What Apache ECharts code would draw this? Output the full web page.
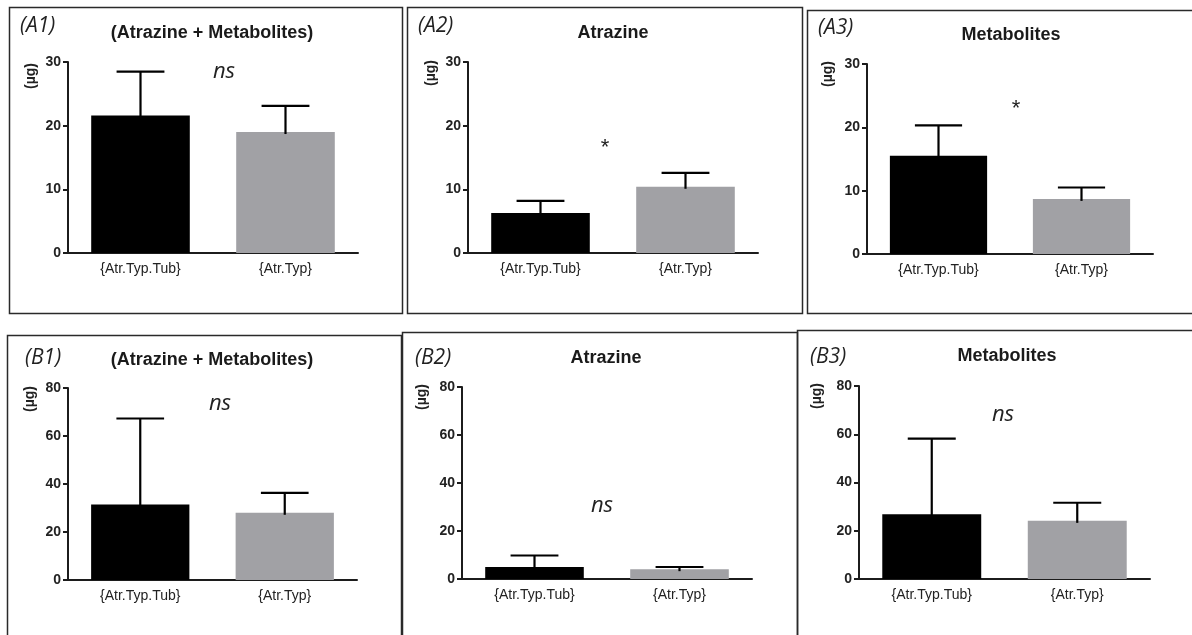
<!DOCTYPE html>
<html><head><meta charset="utf-8">
<script src="https://cdn.jsdelivr.net/npm/echarts/dist/echarts.min.js"></script>
<style>html,body{margin:0;padding:0;background:#fff}#c{width:1192px;height:635px}</style>
</head><body><div id="c"></div>
<script>
// ---------- data ----------
const categories = ['{Atr.Typ.Tub}', '{Atr.Typ}'];
const panelLabels = ['(A1)', '(A2)', '(A3)', '(B1)', '(B2)', '(B3)'];
const panelTitles = ['(Atrazine + Metabolites)', 'Atrazine', 'Metabolites',
                     '(Atrazine + Metabolites)', 'Atrazine', 'Metabolites'];
const significance = ['ns', '*', '*', 'ns', 'ns', 'ns'];
const yUnit = '(µg)';
const yTicksA = [0, 10, 20, 30];
const yTicksB = [0, 20, 40, 60, 80];

const meanA1 = [21.6, 19.0]; const errA1 = [6.9, 4.1];
const meanA2 = [6.3, 10.4];  const errA2 = [1.9, 2.2];
const meanA3 = [15.5, 8.7];  const errA3 = [4.8, 1.8];
const meanB1 = [31.5, 28.0]; const errB1 = [35.8, 8.3];
const meanB2 = [5.0, 4.1];   const errB2 = [4.8, 0.9];
const meanB3 = [26.8, 24.1]; const errB3 = [31.4, 7.5];

// ---------- layout / style ----------
const means = [meanA1, meanA2, meanA3, meanB1, meanB2, meanB3];
const errs  = [errA1, errA2, errA3, errB1, errB2, errB3];
const ticks = [yTicksA, yTicksA, yTicksA, yTicksB, yTicksB, yTicksB];
const grids = [
  {left: 68,  top: 62,  width: 290, height: 191},
  {left: 468, top: 62,  width: 290, height: 191},
  {left: 867, top: 64,  width: 286, height: 190},
  {left: 68,  top: 388, width: 289, height: 192},
  {left: 462, top: 387, width: 290, height: 192},
  {left: 859, top: 386, width: 291, height: 193}
];
const boxes = [
  [9.5, 7.5, 393, 306], [407.5, 7.5, 395, 306], [807.5, 10.5, 420, 303],
  [7.5, 335.5, 394, 330], [402.5, 332.5, 395, 330], [797.5, 330.5, 420, 330]
];
const labelPos = [[20, 26], [418, 26], [818, 28], [25, 358], [415, 358], [810, 357]];
const titlePos = [[212, 33], [613, 33], [1011, 35], [212, 360], [606, 358], [1007, 356]];
const unitPos  = [[31, 76], [431, 73], [828, 74], [30, 399], [422, 397], [817, 396]];
const sigPos   = [[224, 72], [605, 148], [1016, 109], [220, 404], [602, 506], [1003, 415]];
const barColors = ['#000000', '#a1a1a5'];
const axisColor = '#1c1c1c';

function renderErr(params, api) {
  const x = api.value(0), hi = api.value(1), lo = api.value(2);
  const pHi = api.coord([x, hi]);
  const pLo = api.coord([x, lo]);
  const half = api.size([1, 0])[0] * 0.165;
  return {
    type: 'group',
    children: [
      {type: 'line', shape: {x1: pLo[0], y1: pLo[1] + 2, x2: pHi[0], y2: pHi[1]},
       style: {stroke: '#000', lineWidth: 2.2}},
      {type: 'line', shape: {x1: pHi[0] - half, y1: pHi[1], x2: pHi[0] + half, y2: pHi[1]},
       style: {stroke: '#000', lineWidth: 2.2}}
    ]
  };
}

const gridOpt = [], xAxes = [], yAxes = [], series = [], graphics = [];
for (let i = 0; i < 6; i++) {
  gridOpt.push(Object.assign({containLabel: false}, grids[i]));
  xAxes.push({
    type: 'category', gridIndex: i, data: categories,
    axisLine: {lineStyle: {color: axisColor, width: 2}},
    axisTick: {alignWithLabel: true, length: 5, lineStyle: {color: axisColor, width: 2}},
    axisLabel: {fontFamily: 'Liberation Sans', fontSize: 14, color: '#222', margin: 9}
  });
  const t = ticks[i];
  yAxes.push({
    type: 'value', gridIndex: i, min: t[0], max: t[t.length - 1], interval: t[1] - t[0],
    axisLine: {show: true, lineStyle: {color: axisColor, width: 2}},
    axisTick: {show: true, length: 5, lineStyle: {color: axisColor, width: 2}},
    splitLine: {show: false},
    axisLabel: {fontFamily: 'Liberation Sans', fontWeight: 'bold', fontSize: 14, color: '#222', margin: 7}
  });
  series.push({
    type: 'bar', xAxisIndex: i, yAxisIndex: i, barWidth: '68%', silent: true,
    data: means[i].map((v, k) => ({value: v, itemStyle: {color: barColors[k]}}))
  });
  series.push({
    type: 'custom', xAxisIndex: i, yAxisIndex: i, z: 5, silent: true,
    renderItem: renderErr, encode: {x: 0, y: 1},
    data: means[i].map((v, k) => [k, v + errs[i][k], v])
  });
  const b = boxes[i];
  graphics.push({type: 'rect', shape: {x: b[0], y: b[1], width: b[2], height: b[3]},
    style: {fill: 'none', stroke: '#2a2a2a', lineWidth: 1.5}, z: -1});
  graphics.push({type: 'text', x: labelPos[i][0], y: labelPos[i][1],
    style: {text: panelLabels[i], font: 'italic 21px "Open Sans"', fill: '#222',
            textAlign: 'left', textVerticalAlign: 'middle'}});
  graphics.push({type: 'text', x: titlePos[i][0], y: titlePos[i][1],
    style: {text: panelTitles[i], font: 'bold 18px "Liberation Sans"', fill: '#1a1a1a',
            textAlign: 'center', textVerticalAlign: 'middle'}});
  graphics.push({type: 'text', x: unitPos[i][0], y: unitPos[i][1], rotation: Math.PI / 2,
    style: {text: yUnit, font: 'bold 14px "Liberation Sans"', fill: '#222',
            textAlign: 'center', textVerticalAlign: 'middle'}});
  graphics.push({type: 'text', x: sigPos[i][0], y: sigPos[i][1],
    style: {text: significance[i],
            font: significance[i] === '*' ? '22px "Liberation Sans"' : 'italic 22px "Open Sans"',
            fill: '#222', textAlign: 'center', textVerticalAlign: 'middle'}});
}

const chart = echarts.init(document.getElementById('c'), null, {renderer: 'canvas'});
chart.setOption({
  animation: false,
  backgroundColor: '#ffffff',
  grid: gridOpt, xAxis: xAxes, yAxis: yAxes, series: series,
  graphic: graphics
});
</script></body></html>
